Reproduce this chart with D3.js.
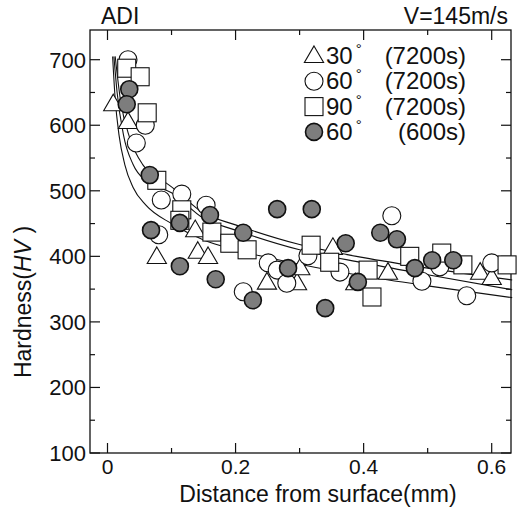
<!DOCTYPE html>
<html>
<head>
<meta charset="utf-8">
<script src="https://cdn.jsdelivr.net/npm/d3@7"></script>
<style>
  body { margin: 0; background: #fff; }
  svg { font-family: "Liberation Sans", Arial, sans-serif; }
</style>
</head>
<body>
<div id="chart"></div>
<script>
// distance (mm), hardness (HV)
const tri30 = [[0.009, 632], [0.032, 605], [0.077, 399], [0.137, 440], [0.141, 407], [0.157, 399],
  [0.249, 360], [0.296, 359], [0.301, 382], [0.352, 413], [0.387, 359], [0.438, 375], [0.582, 375], [0.600, 367]];
const circ60 = [[0.032, 700], [0.059, 600], [0.045, 573], [0.084, 486], [0.116, 495], [0.154, 478],
  [0.080, 433], [0.212, 346], [0.251, 390], [0.265, 379], [0.280, 359], [0.313, 401], [0.363, 376],
  [0.444, 462], [0.491, 362], [0.519, 384], [0.561, 340], [0.600, 390]];
const sq90 = [[0.030, 687], [0.051, 674], [0.062, 619], [0.077, 516], [0.116, 471], [0.113, 455],
  [0.163, 437], [0.191, 420], [0.218, 410], [0.318, 417], [0.347, 391], [0.407, 379], [0.413, 338],
  [0.472, 400], [0.522, 405], [0.555, 387], [0.624, 387]];
const dark60 = [[0.034, 655], [0.030, 632], [0.066, 524], [0.068, 440], [0.113, 451], [0.113, 385],
  [0.160, 463], [0.169, 365], [0.212, 436], [0.227, 333], [0.265, 472], [0.282, 382], [0.319, 472],
  [0.340, 321], [0.372, 420], [0.391, 361], [0.426, 436], [0.452, 426], [0.480, 382], [0.507, 394], [0.540, 394]];

// fitted curves
const fitUpper = [[0.012, 705], [0.02, 640], [0.035, 580], [0.055, 540], [0.08, 520], [0.1, 506],
  [0.15, 466], [0.2, 448], [0.3, 418], [0.4, 398], [0.5, 382], [0.632, 364]];
const fitMiddle = [[0.01, 705], [0.015, 650], [0.025, 585], [0.04, 540], [0.06, 515], [0.1, 497],
  [0.15, 458], [0.2, 440], [0.3, 410], [0.4, 390], [0.5, 372], [0.632, 349]];
const fitLower = [[0.008, 705], [0.012, 640], [0.018, 585], [0.027, 540], [0.04, 505], [0.06, 478],
  [0.1, 450], [0.15, 425], [0.2, 410], [0.3, 388], [0.4, 370], [0.5, 355], [0.632, 337]];

const xTicks = [0, 0.2, 0.4, 0.6];
const xMinor = [0.1, 0.3, 0.5];
const yTicks = [100, 200, 300, 400, 500, 600, 700];
const yMinor = [150, 250, 350, 450, 550, 650];

const legendRows = [
  { shape: "triangle", angle: "30", time: "(7200s)" },
  { shape: "circle", angle: "60", time: "(7200s)" },
  { shape: "square", angle: "90", time: "(7200s)" },
  { shape: "dark", angle: "60", time: "(600s)" }
];

const W = 522, H = 507;
const frameL = 90, frameR = 511, frameT = 30, frameB = 453;

const x = d3.scaleLinear().domain([0, 0.6]).range([107.5, 491.7]);
const y = d3.scaleLinear().domain([100, 700]).range([frameB, frameB - 6 * 65.55]);

const svg = d3.select("#chart").append("svg")
  .attr("width", W).attr("height", H);

// frame
svg.append("rect")
  .attr("x", frameL).attr("y", frameT)
  .attr("width", frameR - frameL).attr("height", frameB - frameT)
  .attr("fill", "none").attr("stroke", "#111").attr("stroke-width", 1.3);

// ticks, all pointing inward
const tickG = svg.append("g").attr("stroke", "#111").attr("stroke-width", 1.2);
xTicks.forEach(v => {
  tickG.append("line").attr("x1", x(v)).attr("x2", x(v)).attr("y1", frameB).attr("y2", frameB - 10);
  tickG.append("line").attr("x1", x(v)).attr("x2", x(v)).attr("y1", frameT).attr("y2", frameT + 10);
});
xMinor.forEach(v => {
  tickG.append("line").attr("x1", x(v)).attr("x2", x(v)).attr("y1", frameB).attr("y2", frameB - 5);
  tickG.append("line").attr("x1", x(v)).attr("x2", x(v)).attr("y1", frameT).attr("y2", frameT + 5);
});
yTicks.forEach(v => {
  tickG.append("line").attr("x1", frameL).attr("x2", frameL + 10).attr("y1", y(v)).attr("y2", y(v));
  tickG.append("line").attr("x1", frameR).attr("x2", frameR - 10).attr("y1", y(v)).attr("y2", y(v));
});
yMinor.forEach(v => {
  tickG.append("line").attr("x1", frameL).attr("x2", frameL + 5).attr("y1", y(v)).attr("y2", y(v));
  tickG.append("line").attr("x1", frameR).attr("x2", frameR - 5).attr("y1", y(v)).attr("y2", y(v));
});

// tick labels
svg.append("g").selectAll("text").data(xTicks).join("text")
  .attr("x", d => x(d)).attr("y", 474)
  .attr("text-anchor", "middle").attr("font-size", 21).attr("fill", "#111")
  .text(d => d === 0 ? "0" : d3.format(".1f")(d));

svg.append("g").selectAll("text").data(yTicks).join("text")
  .attr("x", 86).attr("y", d => y(d) + 8)
  .attr("text-anchor", "end").attr("font-size", 22).attr("fill", "#111")
  .text(d => d);

// axis titles
svg.append("text")
  .attr("x", 318).attr("y", 502)
  .attr("text-anchor", "middle").attr("font-size", 23).attr("fill", "#111")
  .text("Distance from surface(mm)");

const yTitle = svg.append("text")
  .attr("transform", "translate(31,302) rotate(-90)")
  .attr("text-anchor", "middle").attr("font-size", 23).attr("fill", "#111");
yTitle.append("tspan").text("Hardness(");
yTitle.append("tspan").attr("font-style", "italic").text("HV");
yTitle.append("tspan").text(" )");

// header texts
svg.append("text").attr("x", 101).attr("y", 24)
  .attr("font-size", 23).attr("fill", "#111").text("ADI");
svg.append("text").attr("x", 508).attr("y", 24)
  .attr("text-anchor", "end").attr("font-size", 23).attr("fill", "#111").text("V=145m/s");

// fitted curves
const line = d3.line()
  .x(d => x(d[0])).y(d => y(d[1]))
  .curve(d3.curveMonotoneX);

svg.append("g").selectAll("path")
  .data([fitUpper, fitMiddle, fitLower])
  .join("path")
  .attr("d", line)
  .attr("fill", "none").attr("stroke", "#111").attr("stroke-width", 1.1);

// markers
const R = 9, S = 18;
const triPath = d3.symbol().type(d3.symbolTriangle).size(160);

function drawMarker(g, shape, cx, cy) {
  if (shape === "triangle") {
    g.append("path").attr("d", triPath())
      .attr("transform", `translate(${cx},${cy + 1})`)
      .attr("fill", "#fff").attr("stroke", "#111").attr("stroke-width", 1.1);
  } else if (shape === "circle") {
    g.append("circle").attr("cx", cx).attr("cy", cy).attr("r", R)
      .attr("fill", "#fff").attr("stroke", "#111").attr("stroke-width", 1.1);
  } else if (shape === "square") {
    g.append("rect").attr("x", cx - S / 2).attr("y", cy - S / 2)
      .attr("width", S).attr("height", S)
      .attr("fill", "#fff").attr("stroke", "#111").attr("stroke-width", 1.1);
  } else {
    g.append("circle").attr("cx", cx).attr("cy", cy).attr("r", R - 0.5)
      .attr("fill", "#7d7d7d").attr("stroke", "#111").attr("stroke-width", 1.6);
  }
}

const markG = svg.append("g");
[["triangle", tri30], ["circle", circ60], ["square", sq90], ["dark", dark60]].forEach(([shape, data]) => {
  data.forEach(d => drawMarker(markG, shape, x(d[0]), y(d[1])));
});

// legend
const legG = svg.append("g");
legendRows.forEach((row, i) => {
  const base = 64 + i * 25.3;
  drawMarker(legG, row.shape, 314, base - 8);
  const t = legG.append("text").attr("x", 326).attr("y", base)
    .attr("font-size", 24).attr("fill", "#111");
  t.append("tspan").text(row.angle);
  t.append("tspan").attr("font-size", 15).attr("dx", 3).attr("dy", -10).text("°");
  legG.append("text").attr("x", 466).attr("y", base)
    .attr("text-anchor", "end").attr("font-size", 24).attr("fill", "#111")
    .text(row.time);
});
</script>
</body>
</html>
